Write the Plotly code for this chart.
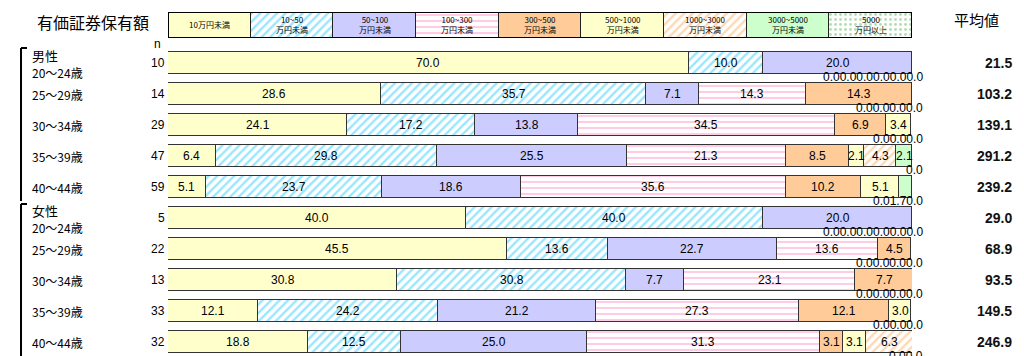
import plotly.graph_objects as go

# ---------------- data ----------------
groups = ["男性", "女性"]
ages = ["20～24歳", "25～29歳", "30～34歳", "35～39歳", "40～44歳"]
n_values = [10, 14, 29, 47, 59, 5, 22, 13, 33, 32]
averages = [21.5, 103.2, 139.1, 291.2, 239.2, 29.0, 68.9, 93.5, 149.5, 246.9]

categories = ["10万円未満", "10~50<br>万円未満", "50~100<br>万円未満", "100~300<br>万円未満",
              "300~500<br>万円未満", "500~1000<br>万円未満", "1000~3000<br>万円未満",
              "3000~5000<br>万円未満", "5000<br>万円以上"]

s_lt10 = [70.0, 28.6, 24.1, 6.4, 5.1, 40.0, 45.5, 30.8, 12.1, 18.8]
s_10_50 = [10.0, 35.7, 17.2, 29.8, 23.7, 40.0, 13.6, 30.8, 24.2, 12.5]
s_50_100 = [20.0, 7.1, 13.8, 25.5, 18.6, 20.0, 22.7, 7.7, 21.2, 25.0]
s_100_300 = [0.0, 14.3, 34.5, 21.3, 35.6, 0.0, 13.6, 23.1, 27.3, 31.3]
s_300_500 = [0.0, 14.3, 6.9, 8.5, 10.2, 0.0, 4.5, 7.7, 12.1, 3.1]
s_500_1000 = [0.0, 0.0, 3.4, 2.1, 5.1, 0.0, 0.0, 0.0, 3.0, 3.1]
s_1000_3000 = [0.0, 0.0, 0.0, 4.3, 0.0, 0.0, 0.0, 0.0, 0.0, 6.3]
s_3000_5000 = [0.0, 0.0, 0.0, 2.1, 1.7, 0.0, 0.0, 0.0, 0.0, 0.0]
s_5000 = [0.0, 0.0, 0.0, 0.0, 0.0, 0.0, 0.0, 0.0, 0.0, 0.0]

series = [s_lt10, s_10_50, s_50_100, s_100_300, s_300_500,
          s_500_1000, s_1000_3000, s_3000_5000, s_5000]

# ---------------- styles ----------------
styles = [
    dict(color="#FFFFCC"),
    dict(color="white", pattern=dict(shape="/", fgcolor="#33CCFF", bgcolor="white", size=6, solidity=0.4)),
    dict(color="#CCCCFF"),
    dict(color="white", pattern=dict(shape="-", fgcolor="#FF99CC", bgcolor="white", size=6, solidity=0.35)),
    dict(color="#FFCC99"),
    dict(color="#FFFFCC"),
    dict(color="white", pattern=dict(shape="/", fgcolor="#FFB266", bgcolor="white", size=6, solidity=0.4)),
    dict(color="#CCFFCC"),
    dict(color="white", pattern=dict(shape=".", fgcolor="#66BB66", bgcolor="white", size=5, solidity=0.25)),
]

OFF = 8                      # page body margin
W, H = 1024 - OFF, 356 - OFF
L = 168 - OFF
R = W - (912 - OFF)
plot_w = W - L - R


def px_x(px):                # reference pixel -> paper x
    return (px - OFF - L) / plot_w


def px_y(py):                # reference pixel -> paper y
    return 1 - (py - OFF) / H


NUMFONT = "Liberation Sans, Arial, sans-serif"
JPFONT = "Noto Sans CJK JP, sans-serif"

rows = list(range(len(n_values)))
fig = go.Figure()
annotations = []

cum = [0.0] * len(rows)
for i, (cat, vals, st) in enumerate(zip(categories, series, styles)):
    marker = dict(line=dict(color="#333333", width=1), **st)
    fig.add_trace(go.Bar(
        orientation="h", x=vals, y=rows, width=0.71,
        marker=marker, textposition="none",
        showlegend=False, hoverinfo="skip", name=cat.replace("<br>", ""),
        xaxis="x", yaxis="y",
    ))
    # value labels centred on each segment
    for r, v in zip(rows, vals):
        if v >= 2:
            annotations.append(dict(
                x=cum[r] + v / 2, y=r, xref="x", yref="y", text=f"{v:.1f}",
                xanchor="center", yanchor="middle", showarrow=False,
                font=dict(family=NUMFONT, size=12, color="black")))
        cum[r] += v
    # legend strip
    fig.add_trace(go.Bar(
        orientation="h", x=[1], y=[0], width=1.0,
        marker=dict(line=dict(color="#222222", width=1), **st),
        textposition="none",
        showlegend=False, hoverinfo="skip",
        xaxis="x2", yaxis="y2",
    ))
    annotations.append(dict(
        x=i + 0.5, y=0, xref="x2", yref="y2", text=cat, showarrow=False,
        xanchor="center", yanchor="middle",
        font=dict(family=JPFONT, size=8, color="black")))

# small / zero labels under bar ends
for r in rows:
    small = [f"{s[r]:.1f}" for s in series if s[r] < 2]
    if small:
        annotations.append(dict(
            x=100, y=r + 0.44, xref="x", yref="y", text="".join(small),
            xanchor="right", yanchor="middle", xshift=13, showarrow=False,
            font=dict(family=NUMFONT, size=12, color="black")))

# n values
for r, n in zip(rows, n_values):
    annotations.append(dict(
        x=0, y=r, xref="paper", yref="y", text=str(n), xanchor="right",
        yanchor="middle", xshift=-1, showarrow=False,
        font=dict(family=NUMFONT, size=12, color="black")))
annotations.append(dict(x=px_x(157), y=px_y(44), xref="paper", yref="paper", text="n",
                        showarrow=False, xanchor="center", yanchor="middle",
                        font=dict(family=NUMFONT, size=12, color="black")))

# averages
for r, a in zip(rows, averages):
    annotations.append(dict(
        x=px_x(1014), y=r, xref="paper", yref="y", text=f"<b>{a:.1f}</b>",
        xanchor="right", yanchor="middle", showarrow=False,
        font=dict(family=NUMFONT, size=14, color="#111111")))

# group and age labels
for g_i, g in enumerate(groups):
    base = g_i * len(ages)
    annotations.append(dict(
        x=px_x(30), y=base - 0.26, xref="paper", yref="y", text=g,
        xanchor="left", yanchor="middle", showarrow=False,
        font=dict(family=JPFONT, size=13, color="black")))
    for a_i, a in enumerate(ages):
        dy = 0.3 if a_i == 0 else 0.0
        annotations.append(dict(
            x=px_x(30), y=base + a_i + dy, xref="paper", yref="y", text=a,
            xanchor="left", yanchor="middle", showarrow=False,
            font=dict(family=JPFONT, size=12, color="black")))

# titles
annotations.append(dict(x=px_x(35), y=px_y(22), xref="paper", yref="paper", text="有価証券保有額",
                        xanchor="left", yanchor="middle", showarrow=False,
                        font=dict(family=JPFONT, size=16, color="black")))
annotations.append(dict(x=px_x(1001), y=px_y(19), xref="paper", yref="paper", text="平均値",
                        xanchor="right", yanchor="middle", showarrow=False,
                        font=dict(family=JPFONT, size=15, color="black")))

shapes = []
for top, bottom in [(48, 201), (204, 370)]:
    shapes.append(dict(type="line", xref="paper", yref="paper",
                       x0=px_x(21), x1=px_x(21), y0=px_y(top), y1=px_y(bottom),
                       line=dict(color="black", width=2)))
    shapes.append(dict(type="line", xref="paper", yref="paper",
                       x0=px_x(21), x1=px_x(27), y0=px_y(top), y1=px_y(top),
                       line=dict(color="black", width=2)))
# legend outer border
shapes.append(dict(type="rect", xref="x2", yref="y2", x0=0, x1=9, y0=-0.5, y1=0.5,
                   line=dict(color="black", width=2)))

fig.update_layout(
    width=W, height=H, barmode="stack",
    margin=dict(l=L, r=R, t=0, b=0),
    paper_bgcolor="white", plot_bgcolor="white",
    xaxis=dict(range=[0, 100], visible=False, domain=[0, 1], anchor="y"),
    yaxis=dict(range=[9.45, -0.52], visible=False, domain=[0, px_y(47)], anchor="x"),
    xaxis2=dict(range=[0, 9], visible=False, domain=[0, 1], anchor="y2"),
    yaxis2=dict(range=[-0.5, 0.5], visible=False, domain=[px_y(38), px_y(12)], anchor="x2"),
    annotations=annotations, shapes=shapes,
    bargap=0,
)

fig.write_html("out.html")
